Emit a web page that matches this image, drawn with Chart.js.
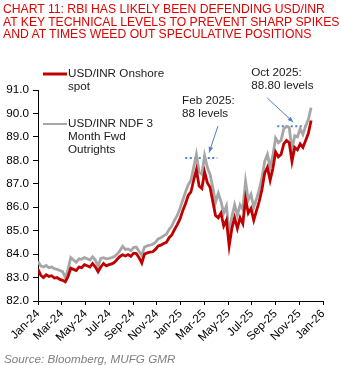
<!DOCTYPE html>
<html>
<head>
<meta charset="utf-8">
<script src="https://cdn.jsdelivr.net/npm/chart.js@4.4.1/dist/chart.umd.min.js"></script>
<style>
  html, body { margin: 0; padding: 0; background: #fff; }
  #wrap { position: relative; width: 340px; height: 365px; overflow: hidden; }
  #title {
    position: absolute; left: 3px; top: 3px; width: 340px;
    font-family: "Liberation Sans", Arial, sans-serif; font-size: 12.2px;
    line-height: 12.6px; color: #e00000; white-space: nowrap;
  }
  #source {
    position: absolute; left: 4px; top: 352px;
    font-family: "Liberation Sans", Arial, sans-serif; font-size: 11.7px;
    font-style: italic; color: #7f7f7f; white-space: nowrap;
  }
  canvas { position: absolute; left: 0; top: 0; }
</style>
</head>
<body>
<div id="wrap">
  <canvas id="myChart" width="340" height="365"></canvas>
  <div id="title">CHART 11: RBI HAS LIKELY BEEN DEFENDING USD/INR<br>AT KEY TECHNICAL LEVELS TO PREVENT SHARP SPIKES<br>AND AT TIMES WEED OUT SPECULATIVE POSITIONS</div>
  <div id="source">Source: Bloomberg, MUFG GMR</div>
</div>
<script>
// axis labels, one every 2 months starting Jan-24
const tickLabels = ["Jan-24", "Mar-24", "May-24", "Jul-24", "Sep-24", "Nov-24",
  "Jan-25", "Mar-25", "May-25", "Jul-25", "Sep-25", "Nov-25", "Jan-26"];

// weekly observations from the first week of Jan 2024
const spot = [
  83.35, 83.10, 83.00, 83.12, 83.05, 83.08, 82.98, 83.00, 82.92, 82.88,
  82.82, 83.05, 83.40, 83.35, 83.30, 83.45, 83.42, 83.55, 83.50, 83.45,
  83.60, 83.45, 83.25, 83.45, 83.60, 83.50, 83.55, 83.58, 83.65, 83.78,
  83.90, 83.97, 83.92, 83.98, 83.90, 84.04, 84.02, 83.85, 83.62, 84.00,
  84.05, 84.08, 84.10, 84.20, 84.35, 84.38, 84.45, 84.50, 84.70, 84.82,
  85.05, 85.26, 85.50, 85.85, 86.15, 86.50, 86.65, 87.15, 87.60, 86.90,
  86.80, 87.50, 87.05, 86.85, 86.25, 85.65, 85.55, 85.75, 85.20, 85.45,
  84.35, 85.10, 85.55, 85.10, 85.55, 85.30, 86.35, 85.75, 85.95, 85.45,
  85.85, 86.25, 86.75, 87.45, 87.70, 87.15, 87.65, 88.35, 88.15, 88.25,
  88.70, 88.85, 88.75, 87.95, 88.55, 88.45, 88.70, 88.55, 88.85, 89.15,
  89.70
];
const ndf = [
  83.68, 83.50, 83.45, 83.52, 83.42, 83.45, 83.38, 83.35, 83.30, 83.25,
  83.00, 83.35, 83.85, 83.75, 83.65, 83.80, 83.78, 83.85, 83.80, 83.75,
  83.88, 83.75, 83.48, 83.82, 83.85, 83.80, 83.82, 83.85, 83.90, 84.00,
  84.15, 84.33, 84.20, 84.22, 84.15, 84.28, 84.30, 84.12, 83.95, 84.30,
  84.35, 84.38, 84.42, 84.50, 84.65, 84.70, 84.78, 84.85, 85.05, 85.20,
  85.45, 85.65, 85.95, 86.30, 86.65, 86.95, 87.15, 87.70, 88.25, 87.50,
  87.40, 88.20, 87.70, 87.40, 86.85, 86.20, 86.60, 86.25, 85.75, 86.05,
  84.80, 85.60, 86.10, 85.65, 86.10, 85.90, 87.10, 86.30, 86.55, 86.00,
  86.35, 86.75, 87.25, 87.95, 88.25, 87.70, 88.20, 88.95, 88.75, 88.85,
  89.35, 89.45, 89.40, 88.45, 89.05, 89.00, 89.35, 89.10, 89.45, 89.75,
  90.25
];

// defended levels (months since Jan-24 for start/end, value)
const febLevel = [12.4, 15.1, 88.1];
const octLevel = [20.15, 22.75, 89.45];

// annotation text and arrows in data units (months, value)
const notes = [
  { lines: ["Feb 2025:", "88 levels"], at: [12.13, 90.54], arrow: [15.15, 89.46, 14.41, 88.33] },
  { lines: ["Oct 2025:", "88.80 levels"], at: [17.95, 91.73], arrow: [19.30, 90.66, 21.49, 89.63] }
];

const weekStep = 7 / 30.4375; // months per weekly observation
const toPoints = (arr) => arr.map((v, i) => ({ x: i * weekStep, y: v }));
const levelPoints = (l) => [{ x: l[0], y: l[2] }, { x: l[1], y: l[2] }];

const FONT = "'Liberation Sans', Arial, sans-serif";
const BLUE = "#4f7fc4";

const overlay = {
  id: "overlay",
  afterDatasetsDraw(chart) {
    const ctx = chart.ctx;
    const xs = chart.scales.x;
    const ys = chart.scales.y;
    ctx.save();
    // arrows
    notes.forEach((n) => {
      const x1 = xs.getPixelForValue(n.arrow[0]);
      const y1 = ys.getPixelForValue(n.arrow[1]);
      const x2 = xs.getPixelForValue(n.arrow[2]);
      const y2 = ys.getPixelForValue(n.arrow[3]);
      ctx.strokeStyle = BLUE;
      ctx.fillStyle = BLUE;
      ctx.lineWidth = 1;
      ctx.beginPath();
      ctx.moveTo(x1, y1);
      ctx.lineTo(x2, y2);
      ctx.stroke();
      const a = Math.atan2(y2 - y1, x2 - x1);
      ctx.beginPath();
      ctx.moveTo(x2, y2);
      ctx.lineTo(x2 - 6 * Math.cos(a - 0.4), y2 - 6 * Math.sin(a - 0.4));
      ctx.lineTo(x2 - 6 * Math.cos(a + 0.4), y2 - 6 * Math.sin(a + 0.4));
      ctx.closePath();
      ctx.fill();
      // text
      ctx.fillStyle = "#1a1a1a";
      ctx.font = "11.7px " + FONT;
      ctx.textBaseline = "middle";
      ctx.textAlign = "left";
      const tx = xs.getPixelForValue(n.at[0]);
      const ty = ys.getPixelForValue(n.at[1]);
      n.lines.forEach((t, i) => ctx.fillText(t, tx, ty + i * 12.5));
    });

    // legend
    const legend = [
      { color: "#c00000", width: 3, y: 74, lines: ["USD/INR Onshore", "spot"] },
      { color: "#a6a6a6", width: 2, y: 124, lines: ["USD/INR NDF 3", "Month Fwd", "Outrights"] }
    ];
    ctx.font = "11.7px " + FONT;
    ctx.textBaseline = "middle";
    legend.forEach((l) => {
      ctx.strokeStyle = l.color;
      ctx.lineWidth = l.width;
      ctx.beginPath();
      ctx.moveTo(43, l.y);
      ctx.lineTo(67, l.y);
      ctx.stroke();
      ctx.fillStyle = "#1a1a1a";
      l.lines.forEach((t, i) => ctx.fillText(t, 68, l.y + i * 13));
    });
    ctx.restore();
  }
};

new Chart(document.getElementById("myChart").getContext("2d"), {
  type: "line",
  data: {
    datasets: [
      {
        label: "USD/INR Onshore spot",
        data: toPoints(spot),
        borderColor: "#c00000",
        borderWidth: 2.8,
        pointRadius: 0,
        tension: 0
      },
      {
        label: "USD/INR NDF 3 Month Fwd Outrights",
        data: toPoints(ndf),
        borderColor: "#a6a6a6",
        borderWidth: 2.8,
        pointRadius: 0,
        tension: 0
      },
      {
        label: "Feb level",
        data: levelPoints(febLevel),
        borderColor: BLUE,
        borderWidth: 2,
        borderDash: [2, 2.5],
        pointRadius: 0
      },
      {
        label: "Oct level",
        data: levelPoints(octLevel),
        borderColor: BLUE,
        borderWidth: 2,
        borderDash: [2, 2.5],
        pointRadius: 0
      }
    ]
  },
  options: {
    responsive: false,
    animation: false,
    layout: { padding: { top: 90, right: 17, bottom: 14, left: 0 } },
    plugins: { legend: { display: false }, tooltip: { enabled: false } },
    scales: {
      x: {
        type: "linear",
        min: 0,
        max: 24,
        afterFit: (s) => { s.height = 50; },
        afterBuildTicks: (s) => { s.ticks = tickLabels.map((_, i) => ({ value: i * 2 })); },
        ticks: {
          autoSkip: false,
          maxRotation: 45,
          minRotation: 45,
          padding: 2,
          color: "#000",
          font: { family: FONT, size: 11.7 },
          callback: (v) => tickLabels[Math.round(v / 2)]
        },
        grid: { drawOnChartArea: false, drawTicks: true, tickLength: 4, color: "#000" },
        border: { color: "#000", width: 1 }
      },
      y: {
        min: 82,
        max: 91,
        afterFit: (s) => { s.width = 38; },
        ticks: {
          stepSize: 1,
          padding: 4,
          color: "#000",
          font: { family: FONT, size: 11.7 },
          callback: (v) => v.toFixed(1)
        },
        grid: { drawOnChartArea: false, drawTicks: true, tickLength: 5, color: "#000" },
        border: { color: "#000", width: 1 }
      }
    }
  },
  plugins: [overlay]
});
</script>
</body>
</html>
